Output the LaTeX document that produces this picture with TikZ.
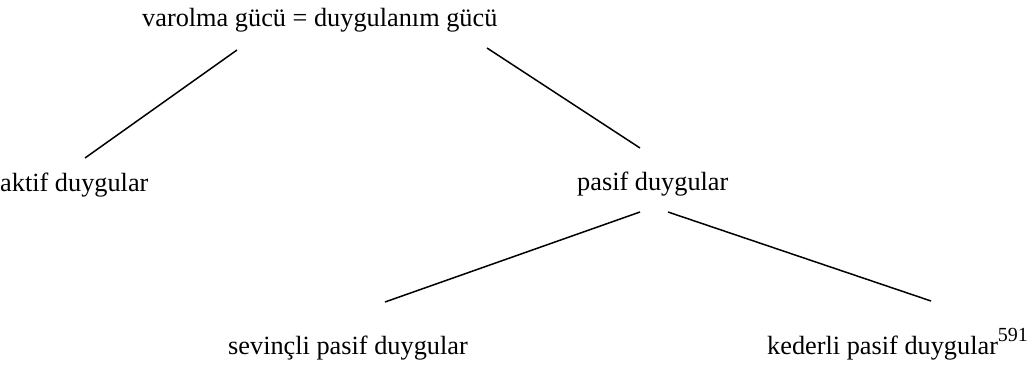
\documentclass[tikz,border=0pt]{standalone}
\usepackage{fontspec}
\setmainfont{Liberation Serif}
\begin{document}
\begin{tikzpicture}[x=1pt,y=-1pt,
  lbl/.style={anchor=base west,inner sep=0pt,font=\fontsize{26.3}{30}\selectfont},
  edge/.style={draw,line width=1.5pt}]
\useasboundingbox (0,0) rectangle (1035,365);
\node[lbl] (root) at (142,26) {varolma gücü = duygulanım gücü};
\node[lbl] (akt) at (0,191) {aktif duygular};
\node[lbl] (pas) at (577,190) {pasif duygular};
\node[lbl] (sev) at (228,354) {sevinçli pasif duygular};
\node[lbl] (ked) at (767,354) {kederli pasif duygular\raisebox{13pt}{\fontsize{20}{22}\selectfont 591}};
\coordinate (r1) at (237,50);
\coordinate (a1) at (85,158);
\coordinate (r2) at (487,48);
\coordinate (p1) at (640,148);
\coordinate (p2) at (640,212);
\coordinate (s1) at (385,302);
\coordinate (p3) at (668,212);
\coordinate (k1) at (931,301);
\draw[edge] (r1) -- (a1);
\draw[edge] (r2) -- (p1);
\draw[edge] (p2) -- (s1);
\draw[edge] (p3) -- (k1);
\end{tikzpicture}
\end{document}
